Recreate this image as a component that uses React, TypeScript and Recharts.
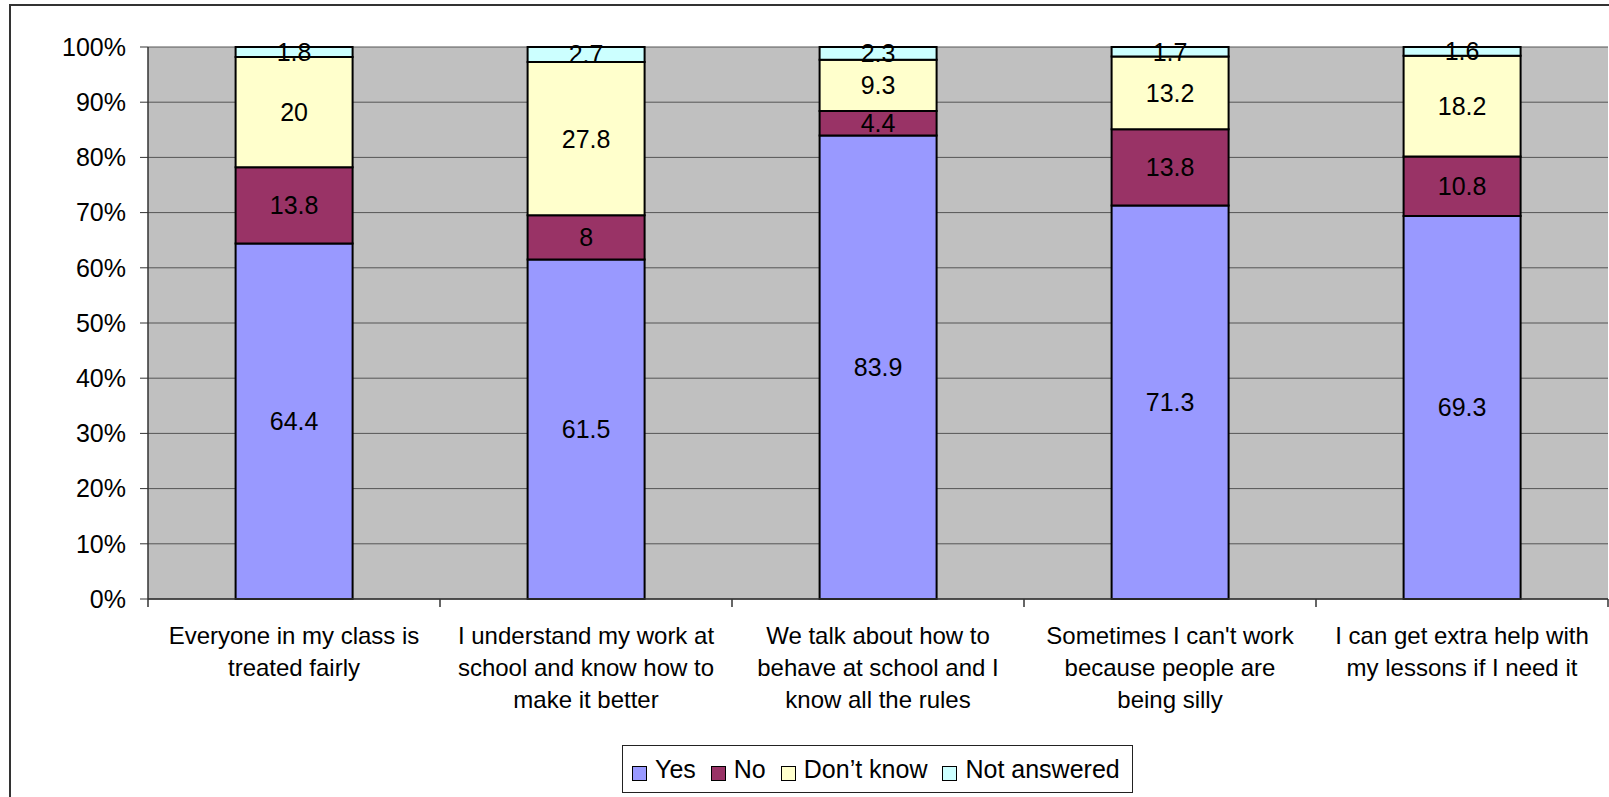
import { Bar, BarChart, CartesianGrid, LabelList, Legend, XAxis, YAxis } from "recharts"

const categories = [
  "Everyone in my class is\ntreated fairly",
  "I understand my work at\nschool and know how to\nmake it better",
  "We talk about how to\nbehave at school and I\nknow all the rules",
  "Sometimes I can't work\nbecause people are\nbeing silly",
  "I can get extra help with\nmy lessons if I need it",
]
const yes = [64.4, 61.5, 83.9, 71.3, 69.3]
const no = [13.8, 8, 4.4, 13.8, 10.8]
const dontKnow = [20, 27.8, 9.3, 13.2, 18.2]
const notAnswered = [1.8, 2.7, 2.3, 1.7, 1.6]
const yTicks = [0, 10, 20, 30, 40, 50, 60, 70, 80, 90, 100]

const series = [
  { key: "yes", name: "Yes", color: "#9999FF" },
  { key: "no", name: "No", color: "#993366" },
  { key: "dontKnow", name: "Don\u2019t know", color: "#FFFFCC" },
  { key: "notAnswered", name: "Not answered", color: "#CCFFFF" },
]

const data = categories.map((name, i) => ({
  name,
  yes: yes[i],
  no: no[i],
  dontKnow: dontKnow[i],
  notAnswered: notAnswered[i],
}))

const FONT = "'Liberation Sans', Arial, sans-serif"

const CategoryTick = (props: any) => {
  const { x, y, payload } = props
  const lines: string[] = String(payload.value).split("\n")
  const half = payload.offset || 0
  return (
    <g>
      <line x1={x - half} y1={y} x2={x - half} y2={y + 8} stroke="#333" strokeWidth={1.5} />
      {payload.index === categories.length - 1 && (
        <line x1={x + half} y1={y} x2={x + half} y2={y + 8} stroke="#333" strokeWidth={1.5} />
      )}
      {lines.map((line, i) => (
        <text
          key={i}
          x={x}
          y={y + 36 + i * 32}
          textAnchor="middle"
          dominantBaseline="central"
          fontSize={24}
          fontFamily={FONT}
          fill="#000"
        >
          {line}
        </text>
      ))}
    </g>
  )
}

const LegendBox = () => (
  <div
    style={{
      border: "1px solid #222",
      background: "#fff",
      height: 48,
      display: "flex",
      alignItems: "center",
      justifyContent: "flex-start",
      paddingLeft: 9,
      fontFamily: FONT,
      fontSize: 25,
      color: "#000",
      boxSizing: "border-box",
    }}
  >
    {series.map((s, i) => (
      <span
        key={s.key}
        style={{ display: "flex", alignItems: "center", marginRight: i === series.length - 1 ? 0 : 15 }}
      >
        <span
          style={{
            display: "inline-block",
            width: 15,
            height: 15,
            boxSizing: "border-box",
            background: s.color,
            border: "1.5px solid #000",
            marginRight: 8,
            marginTop: 8,
          }}
        />
        {s.name}
      </span>
    ))}
  </div>
)

const App = () => {
  return (
    <div style={{ position: "absolute", left: 0, top: 0, width: 1609, height: 797, overflow: "hidden", background: "#fff" }}>
      <div
        style={{
          position: "absolute",
          left: 9,
          top: 4,
          width: 1700,
          height: 900,
          border: "2px solid #333",
        }}
      />
      <div style={{ position: "absolute", left: 0, top: 0 }}>
        <BarChart
          width={1609}
          height={797}
          data={data}
          stackOffset="expand"
          barCategoryGap="30%"
          margin={{ top: 47, right: 1, left: 0, bottom: 0 }}
        >
          <CartesianGrid vertical={false} fill="#C0C0C0" stroke="#555" />
          <XAxis
            dataKey="name"
            height={198}
            tick={<CategoryTick />}
            tickLine={false}
            tickSize={0}
            tickMargin={0}
            axisLine={{ stroke: "#333", strokeWidth: 1.5 }}
            interval={0}
          />
          <YAxis
            width={148}
            domain={[0, 1]}
            ticks={yTicks.map((t) => t / 100)}
            tickFormatter={(v: number) => `${Math.round(v * 100)}%`}
            tickSize={8}
            tickMargin={14}
            tick={{ fontSize: 25, fontFamily: FONT, fill: "#000" }}
            tickLine={{ stroke: "#333" }}
            axisLine={{ stroke: "#333", strokeWidth: 1.5 }}
          />
          <Legend
            verticalAlign="middle"
            align="center"
            content={<LegendBox />}
            wrapperStyle={{ left: 622, top: 745, width: 511, height: 48 }}
          />
          {series.map((s) => (
            <Bar
              key={s.key}
              dataKey={s.key}
              name={s.name}
              stackId="a"
              fill={s.color}
              stroke="#000"
              strokeWidth={2}
              isAnimationActive={false}
            >
              <LabelList
                dataKey={s.key}
                position="center"
                fontSize={25}
                fontFamily={FONT}
                fill="#000"
              />
            </Bar>
          ))}
        </BarChart>
      </div>
    </div>
  )
}

export default App
